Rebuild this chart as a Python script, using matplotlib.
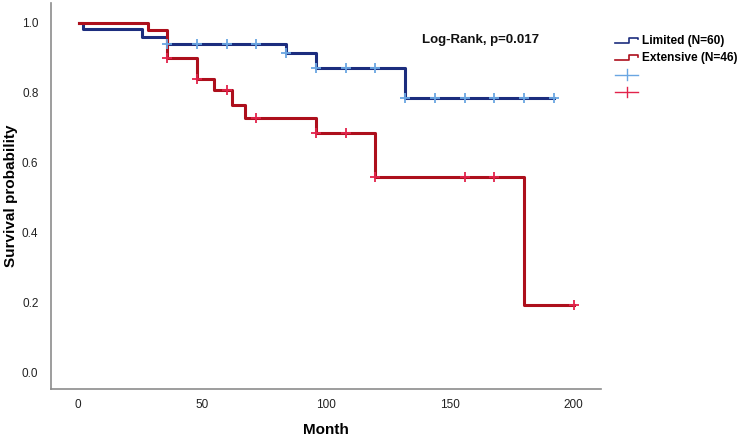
import numpy as np
import matplotlib
matplotlib.use("Agg")
import matplotlib.pyplot as plt
from matplotlib.legend_handler import HandlerBase
from matplotlib.lines import Line2D

plt.rcParams['font.family'] = ['Liberation Sans', 'DejaVu Sans']

# ---- data ----
limited_times = [0.5, 2, 26, 36, 84, 96, 132, 192]
limited_surv = [1.0, 0.982, 0.960, 0.940, 0.912, 0.871, 0.784, 0.784]
limited_censor = [36, 48, 60, 72, 84, 96, 108, 120, 132, 144, 156, 168, 180, 192]

extensive_times = [0.5, 28.5, 36, 48, 55, 62, 67.5, 96, 120, 180, 200]
extensive_surv = [1.0, 0.979, 0.899, 0.838, 0.807, 0.765, 0.726, 0.684, 0.559, 0.192, 0.192]
extensive_censor = [36, 48, 60, 72, 96, 108, 120, 156, 168, 200]

labels = ["Limited (N=60)", "Extensive (N=46)"]
x_ticks = [0, 50, 100, 150, 200]
y_ticks = [0.0, 0.2, 0.4, 0.6, 0.8, 1.0]
annotation = "Log-Rank, p=0.017"

blue_line = "#1c2d7e"
blue_cens = "#6aa6e2"
red_line = "#ad0f1c"
red_cens = "#e2234b"


def surv_at(times, surv, t):
    idx = np.searchsorted(np.asarray(times), np.asarray(t), side="right") - 1
    return np.asarray(surv)[idx]


fig = plt.figure(figsize=(7.42, 4.38), dpi=100)
ax = fig.add_axes([51 / 742, 1 - 389 / 438, 550 / 742, 386 / 438])

ax.step(limited_times, limited_surv, where="post", color=blue_line, lw=2.2, zorder=3)
ax.step(extensive_times, extensive_surv, where="post", color=red_line, lw=2.2, zorder=3)
ax.plot(limited_censor, surv_at(limited_times, limited_surv, limited_censor), ls="none",
        marker="+", ms=7, mew=1.3, color=blue_cens, zorder=4)
ax.plot(extensive_censor, surv_at(extensive_times, extensive_surv, extensive_censor), ls="none",
        marker="+", ms=7, mew=1.3, color=red_cens, zorder=4)

ax.set_xlim(-10.8, 211)
ax.set_ylim(-0.048, 1.056)
ax.set_xticks(x_ticks)
ax.set_yticks(y_ticks)
ax.set_yticklabels([f"{v:.1f}" for v in y_ticks])
ax.tick_params(length=0, labelsize=8.5, colors="#222222")
ax.tick_params(axis="y", pad=9)
ax.tick_params(axis="x", pad=7)
for s in ("top", "right"):
    ax.spines[s].set_visible(False)
for s in ("left", "bottom"):
    ax.spines[s].set_color("#8c8c8c")
    ax.spines[s].set_linewidth(1.2)

ax.set_xlabel("Month", fontsize=11, fontweight="bold")
ax.set_ylabel("Survival probability", fontsize=11, fontweight="bold")
ax.xaxis.set_label_coords(0.5, (389 - 430) / 386)
ax.xaxis.label.set_va("center")
ax.yaxis.set_label_coords((11 - 51) / 550, 0.5)
ax.yaxis.label.set_va("center")

fig.text(421.7 / 742, 1 - 40 / 438, annotation, fontsize=9.5, fontweight="bold",
         ha="left", va="center", color="#111111")


class StepHandler(HandlerBase):
    def create_artists(self, legend, orig_handle, xdescent, ydescent, width, height,
                       fontsize, trans):
        w, h = width, height
        y0 = -ydescent + h * 0.15
        y1 = -ydescent + h * 0.75
        xs = [-xdescent, -xdescent + w * 0.62, -xdescent + w * 0.62, -xdescent + w, -xdescent + w]
        ys = [y0, y0, y1, y1, y1 - h * 0.2]
        ln = Line2D(xs, ys, color=orig_handle.get_color(), lw=1.2, transform=trans)
        return [ln]


class CensorHandler(HandlerBase):
    def create_artists(self, legend, orig_handle, xdescent, ydescent, width, height,
                       fontsize, trans):
        w, h = width, height
        ym = -ydescent + h * 0.5
        xm = -xdescent + w * 0.5
        l1 = Line2D([-xdescent, -xdescent + w], [ym, ym], color=orig_handle.get_color(),
                    lw=1.0, transform=trans)
        l2 = Line2D([xm, xm], [ym - h * 0.65, ym + h * 0.65], color=orig_handle.get_color(),
                    lw=1.0, transform=trans)
        return [l1, l2]


class StepProxy(Line2D):
    pass


class CensorProxy(Line2D):
    pass


handles = [StepProxy([], [], color=blue_line), StepProxy([], [], color=red_line),
           CensorProxy([], [], color=blue_cens), CensorProxy([], [], color=red_cens)]
leg = fig.legend(handles, labels + [" ", " "], loc="upper left",
                 bbox_to_anchor=(615 / 742, 1 - 35 / 438), frameon=False,
                 prop={"weight": "bold", "size": 8.6}, handlelength=1.95,
                 handletextpad=0.3, labelspacing=0.45, borderpad=0, borderaxespad=0,
                 handler_map={StepProxy: StepHandler(), CensorProxy: CensorHandler()})

fig.savefig("out.png", dpi=100)
